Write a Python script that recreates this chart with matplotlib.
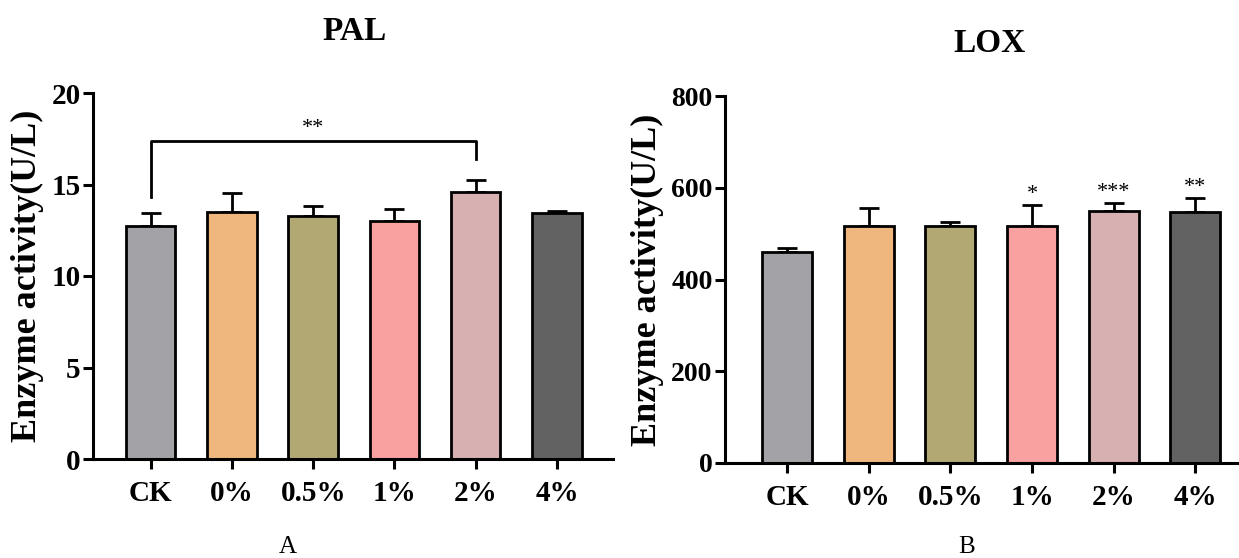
import matplotlib
matplotlib.use("Agg")
import matplotlib.pyplot as plt
import numpy as np

plt.rcParams['font.family'] = ['Liberation Serif', 'DejaVu Serif']
plt.rcParams['font.weight'] = 'bold'

categories = ["CK", "0%", "0.5%", "1%", "2%", "4%"]
colors = ["#A3A2A6", "#EFB77D", "#B2A874", "#F9A0A0", "#D7B0B1", "#626262"]

pal_mean = [12.75, 13.5, 13.27, 13.02, 14.6, 13.42]
pal_err = [0.67, 1.05, 0.57, 0.62, 0.67, 0.13]

lox_mean = [460, 517, 517, 517, 550, 547]
lox_err = [9, 38, 8, 45, 17, 30]
lox_sig = ["", "", "", "*", "***", "**"]

pal_bracket = (0, 4, "**")

fig = plt.figure(figsize=(12.39, 5.58), dpi=100)
axL = fig.add_axes([93/1239, 1-459/558, (613-93)/1239, (459-93)/558])
axR = fig.add_axes([725/1239, 1-463/558, (1237-725)/1239, (463-96)/558])

def style(ax, ylim, yticks, xlim, ytsize):
    x = np.arange(len(categories))
    ax.set_xlim(*xlim)
    ax.set_ylim(*ylim)
    ax.set_yticks(yticks)
    ax.set_xticks(x)
    ax.set_xticklabels(categories, fontsize=21, fontweight='bold')
    ax.set_yticklabels([str(v) for v in yticks], fontsize=ytsize, fontweight='bold')
    for s in ['top', 'right']:
        ax.spines[s].set_visible(False)
    for s in ['left', 'bottom']:
        ax.spines[s].set_linewidth(2.2)
    ax.tick_params(axis='both', direction='out', length=7, width=2.2, pad=2)
    ax.tick_params(axis='x', pad=8)
    ax.set_ylabel("Enzyme activity(U/L)", fontsize=26, fontweight='bold', labelpad=5)

def bars(ax, means, errs):
    x = np.arange(len(categories))
    ax.bar(x, means, width=0.61, color=colors, edgecolor='black', linewidth=2.0, zorder=2)
    ax.errorbar(x, means, yerr=[np.zeros(len(means)), errs], fmt='none', ecolor='black',
                elinewidth=2.0, capsize=7, capthick=2.0, zorder=1)

# PAL
bars(axL, pal_mean, pal_err)
style(axL, (0, 20), [0, 5, 10, 15, 20], (-0.71, 5.69), 21)
i0, i1, lab = pal_bracket
yb = 17.4
axL.plot([i0, i0, i1, i1], [pal_mean[i0] + pal_err[i0] + 0.9, yb, yb, pal_mean[i1] + pal_err[i1] + 1.1],
         color='black', lw=2.0, clip_on=False)
axL.text((i0 + i1) / 2, yb + 0.15, lab, ha='center', va='bottom', fontsize=16, fontweight='normal')

# LOX
bars(axR, lox_mean, lox_err)
style(axR, (0, 800), [0, 200, 400, 600, 800], (-0.76, 5.51), 20)
for i, s in enumerate(lox_sig):
    if s:
        axR.text(i, lox_mean[i] + lox_err[i] + 2, s, ha='center', va='bottom', fontsize=16, fontweight='normal')

fig.text(355/1239, 1-32/558, "PAL", ha='center', va='center', fontsize=24, fontweight='bold')
fig.text(990/1239, 1-44/558, "LOX", ha='center', va='center', fontsize=24, fontweight='bold')
fig.text(288/1239, 1-547/558, "A", ha='center', va='center', fontsize=18, fontweight='normal')
fig.text(967/1239, 1-547/558, "B", ha='center', va='center', fontsize=18, fontweight='normal')

fig.savefig("out.png", dpi=100)
